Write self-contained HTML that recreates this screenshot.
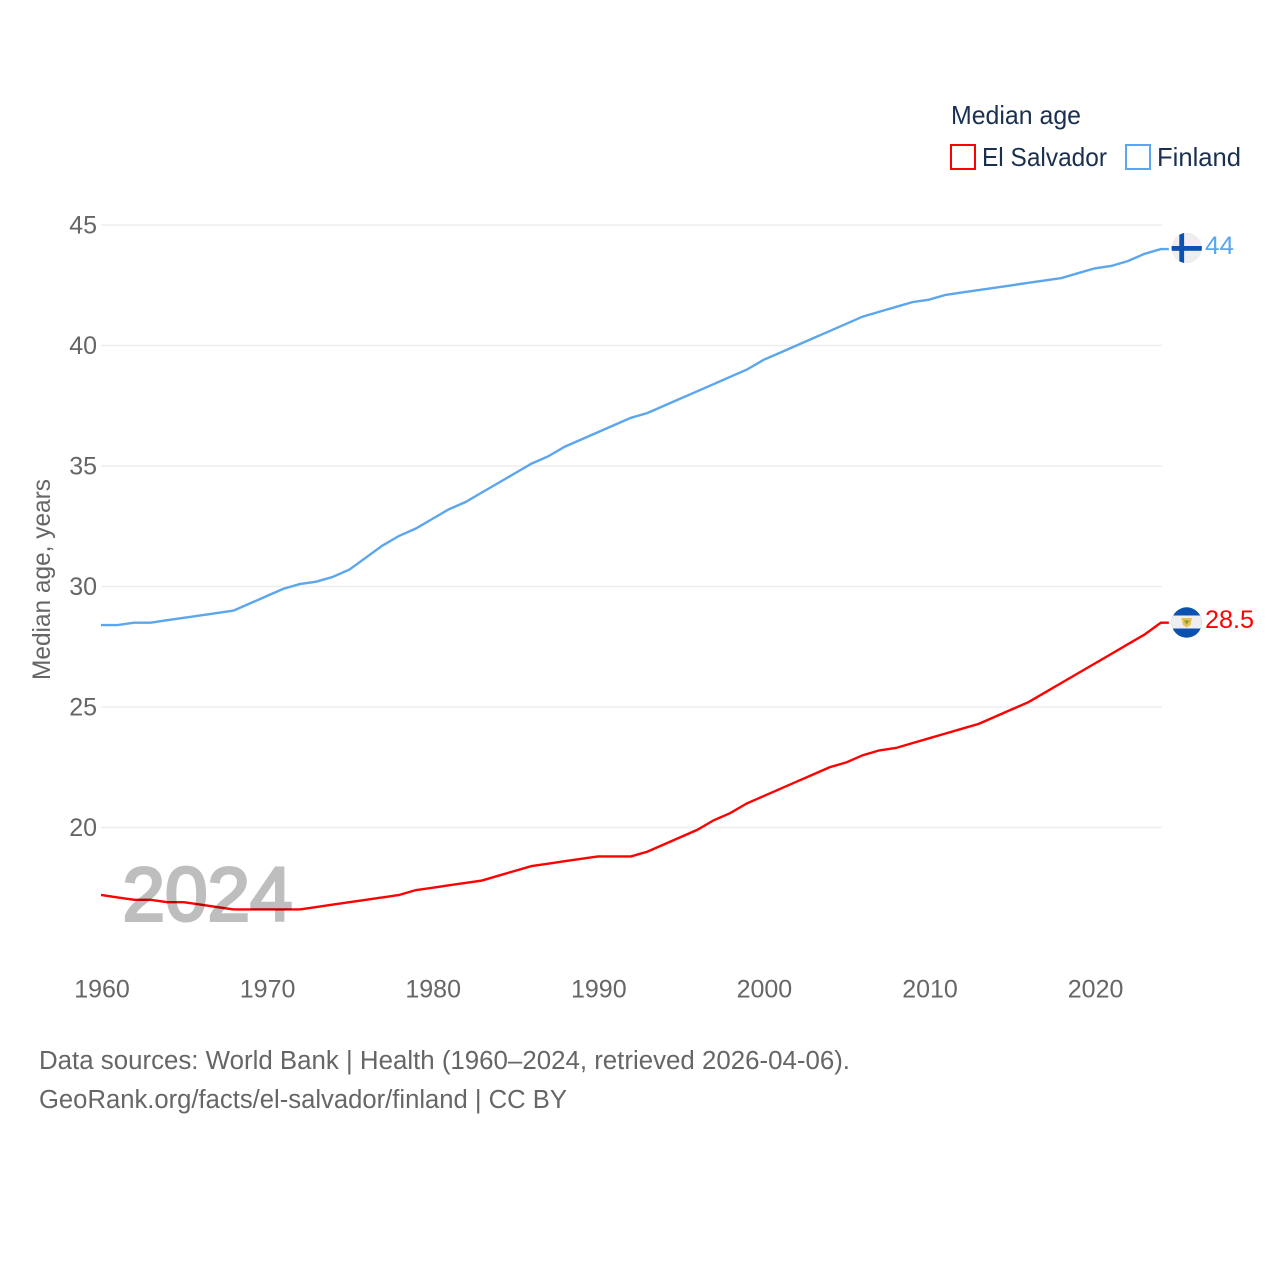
<!DOCTYPE html>
<html lang="en">
<head>
<meta charset="utf-8">
<title>Median age: El Salvador and Finland</title>
<style>
html,body{margin:0;padding:0;background:#fff;width:1280px;height:1280px;overflow:hidden}
svg{display:block}
text{font-family:"Liberation Sans",sans-serif}
.tick{font-size:25px;fill:#666}
.legend{font-size:26px;fill:#1a3050}
.source{font-size:25.5px;fill:#666}
</style>
</head>
<body>
<svg id="chart" width="1280" height="1280" viewBox="0 0 1280 1280" xmlns="http://www.w3.org/2000/svg">
  <defs>
    <clipPath id="fi-clip"><circle cx="1186.700" cy="248" r="15.200"/></clipPath>
    <clipPath id="sv-clip"><circle cx="1186.700" cy="622.500" r="15.200"/></clipPath>
  </defs>
  <g id="grid"></g>
  <g id="yticks"></g>
  <g id="xticks"></g>
  <text class="tick" transform="translate(50,680) rotate(-90)" textLength="201" lengthAdjust="spacingAndGlyphs">Median age, years</text>
  <g id="series"></g>
  <text x="122.500" y="920.500" font-size="76" fill="#000" stroke="#000" stroke-width="3" opacity="0.25" textLength="170" lengthAdjust="spacingAndGlyphs">2024</text>

  <g clip-path="url(#fi-clip)">
    <rect x="1171" y="232" width="32" height="32" fill="#eeeeee"/>
    <rect x="1179.300" y="232" width="4.800" height="32" fill="#0b52b0"/>
    <rect x="1171" y="246" width="32" height="4.800" fill="#0b52b0"/>
  </g>
  <text x="1205" y="254" font-size="25" fill="#5ba6ec" textLength="29" lengthAdjust="spacingAndGlyphs">44</text>

  <g clip-path="url(#sv-clip)">
    <rect x="1171" y="607" width="32" height="32" fill="#0b52b0"/>
    <rect x="1171" y="615.500" width="32" height="13" fill="#eeeeee"/>
    <path d="M1181.500 618 L1192 618 L1190.500 625 L1186.700 627.500 L1183 625 Z" fill="#e8c04e"/>
    <path d="M1184 620.500 L1189.500 620.500 L1186.700 624.500 Z" fill="#7f9a3c"/>
  </g>
  <text x="1205" y="628" font-size="25" fill="#ff0000" textLength="49" lengthAdjust="spacingAndGlyphs">28.5</text>

  <g>
    <text class="legend" x="951" y="124" textLength="130" lengthAdjust="spacingAndGlyphs">Median age</text>
    <g>
      <rect x="951" y="145" width="24" height="24" fill="none" stroke="#ff0000" stroke-width="2"/>
      <text class="legend" x="982" y="166" textLength="125" lengthAdjust="spacingAndGlyphs">El Salvador</text>
    </g>
    <g>
      <rect x="1126" y="145" width="24" height="24" fill="none" stroke="#5ba6ec" stroke-width="2"/>
      <text class="legend" x="1157" y="166" textLength="84" lengthAdjust="spacingAndGlyphs">Finland</text>
    </g>
  </g>

  <text class="source" x="39" y="1069" textLength="811" lengthAdjust="spacingAndGlyphs">Data sources: World Bank | Health (1960–2024, retrieved 2026-04-06).</text>
  <text class="source" x="39" y="1108" textLength="528" lengthAdjust="spacingAndGlyphs">GeoRank.org/facts/el-salvador/finland | CC BY</text>
</svg>
<script>
const startYear = 1960;
const xTickYears = [1960, 1970, 1980, 1990, 2000, 2010, 2020];
const yTickValues = [20, 25, 30, 35, 40, 45];
const finlandValues = [28.4,28.4,28.5,28.5,28.6,28.7,28.8,28.9,29.0,29.3,29.6,29.9,30.1,30.2,30.4,30.7,31.2,31.7,32.1,32.4,32.8,33.2,33.5,33.9,34.3,34.7,35.1,35.4,35.8,36.1,36.4,36.7,37.0,37.2,37.5,37.8,38.1,38.4,38.7,39.0,39.4,39.7,40.0,40.3,40.6,40.9,41.2,41.4,41.6,41.8,41.9,42.1,42.2,42.3,42.4,42.5,42.6,42.7,42.8,43.0,43.2,43.3,43.5,43.8,44.0];
const elSalvadorValues = [17.2,17.1,17.0,17.0,16.9,16.9,16.8,16.7,16.6,16.6,16.6,16.6,16.6,16.7,16.8,16.9,17.0,17.1,17.2,17.4,17.5,17.6,17.7,17.8,18.0,18.2,18.4,18.5,18.6,18.7,18.8,18.8,18.8,19.0,19.3,19.6,19.9,20.3,20.6,21.0,21.3,21.6,21.9,22.2,22.5,22.7,23.0,23.2,23.3,23.5,23.7,23.9,24.1,24.3,24.6,24.9,25.2,25.6,26.0,26.4,26.8,27.2,27.6,28.0,28.5];

const NS = 'http://www.w3.org/2000/svg';
function xScale(year) { return 101 + (year - 1960) * 16.56; }
function yScale(value) { return 827.5 - (value - 20) * 24.1; }

const gridGroup = document.getElementById('grid');
const yGroup = document.getElementById('yticks');
yTickValues.forEach(function (v) {
  const line = document.createElementNS(NS, 'line');
  
  
  line.setAttribute('x1', 101);
  line.setAttribute('x2', 1162);
  line.setAttribute('y1', yScale(v));
  line.setAttribute('y2', yScale(v));
  line.setAttribute('stroke', '#eeeeee');
  line.setAttribute('stroke-width', 1.5);
  gridGroup.appendChild(line);

  const label = document.createElementNS(NS, 'text');
  
  
  label.setAttribute('class', 'tick');
  label.setAttribute('x', 97);
  label.setAttribute('y', yScale(v) + 8.5);
  label.setAttribute('text-anchor', 'end');
  label.textContent = v;
  yGroup.appendChild(label);
});

const xGroup = document.getElementById('xticks');
xTickYears.forEach(function (year) {
  const label = document.createElementNS(NS, 'text');
  
  
  label.setAttribute('class', 'tick');
  label.setAttribute('x', xScale(year) + 1);
  label.setAttribute('y', 997.5);
  label.setAttribute('text-anchor', 'middle');
  label.textContent = year;
  xGroup.appendChild(label);
});

function linePath(values) {
  let d = values.map(function (v, i) {
    return (i ? 'L' : 'M') + xScale(startYear + i).toFixed(2) + ' ' + yScale(v).toFixed(2);
  }).join(' ');
  const last = values[values.length - 1];
  d += ' L' + (xScale(startYear + values.length - 1) + 8).toFixed(2) + ' ' + yScale(last).toFixed(2);
  return d;
}

const seriesGroup = document.getElementById('series');
const finlandLine = document.createElementNS(NS, 'path');


finlandLine.setAttribute('d', linePath(finlandValues));
finlandLine.setAttribute('fill', 'none');
finlandLine.setAttribute('stroke', '#5ba6ec');
finlandLine.setAttribute('stroke-width', 2.4);
seriesGroup.appendChild(finlandLine);

const elSalvadorLine = document.createElementNS(NS, 'path');


elSalvadorLine.setAttribute('d', linePath(elSalvadorValues));
elSalvadorLine.setAttribute('fill', 'none');
elSalvadorLine.setAttribute('stroke', '#ff0000');
elSalvadorLine.setAttribute('stroke-width', 2.4);
seriesGroup.appendChild(elSalvadorLine);
</script>
</body>
</html>
